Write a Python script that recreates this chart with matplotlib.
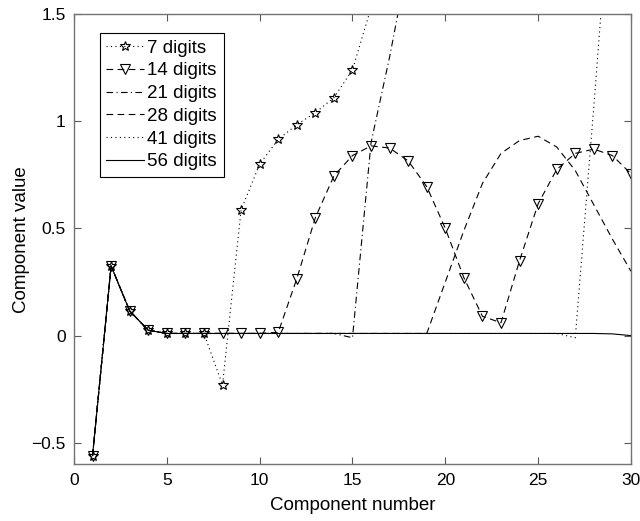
import matplotlib.pyplot as plt
import numpy as np

plt.rcParams['font.family'] = ['Liberation Sans', 'DejaVu Sans']

x = np.arange(1, 31)
base = [-0.56, 0.325, 0.115, 0.025, 0.01, 0.01, 0.01, 0.01, 0.01, 0.01,
        0.01, 0.01, 0.01, 0.01, 0.01, 0.01, 0.01, 0.01, 0.01, 0.01,
        0.01, 0.01, 0.01, 0.01, 0.01, 0.01, 0.01, 0.01, 0.008, 0.0]

d7 = [-0.56, 0.325, 0.115, 0.025, 0.01, 0.01, 0.01, -0.23, 0.586, 0.80,
      0.915, 0.984, 1.04, 1.11, 1.24, 1.53, 2.3]
d14 = [-0.56, 0.325, 0.115, 0.025, 0.01, 0.01, 0.01, 0.01, 0.01, 0.01,
       0.015, 0.265, 0.55, 0.745, 0.84, 0.885, 0.875, 0.815, 0.695, 0.50,
       0.27, 0.09, 0.06, 0.35, 0.615, 0.775, 0.85, 0.87, 0.84, 0.755]
d21 = base[:14] + [-0.01, 0.90, 1.30, 1.75]
d28 = base[:19] + [0.25, 0.49, 0.71, 0.85, 0.91, 0.93, 0.88, 0.77, 0.61, 0.45, 0.30]
d41 = base[:26] + [-0.01, 1.07, 2.2]
d56 = base

fig = plt.figure(figsize=(6.4, 5.21), dpi=100)
ax = fig.add_axes([0.1156, 0.109, 0.8703, 0.864])

lw = 0.8
ax.plot(x[:len(d7)], d7, color='k', lw=lw, ls=(0, (1, 3)), marker='*',
        ms=7, mfc='none', mec='k', mew=0.8, label='7 digits')
ax.plot(x, d14, color='k', lw=lw, ls=(0, (6, 4)), marker='v',
        ms=7, mfc='none', mec='k', mew=0.8, label='14 digits')
ax.plot(x[:len(d21)], d21, color='k', lw=lw, ls=(0, (6, 3, 1, 3)), label='21 digits')
ax.plot(x[:len(d28)], d28, color='k', lw=lw, ls=(0, (6, 4)), label='28 digits')
ax.plot(x[:len(d41)], d41, color='k', lw=lw, ls=(0, (1, 3)), label='41 digits')
ax.plot(x, d56, color='k', lw=lw, ls='-', label='56 digits')

ax.set_xlim(0, 30)
ax.set_ylim(-0.6, 1.5)
ax.set_xticks([0, 5, 10, 15, 20, 25, 30])
ax.set_yticks([-0.5, 0, 0.5, 1, 1.5], ['\u22120.5', '0', '0.5', '1', '1.5'])
ax.tick_params(direction='in', top=True, right=True, labelsize=12.5, length=5,
               color='0.35', pad=6)
for s in ax.spines.values():
    s.set_color('0.45')
    s.set_linewidth(1.0)

ax.set_xlabel('Component number', fontsize=13.5, labelpad=7)
ax.set_ylabel('Component value', fontsize=13.5, labelpad=1)

leg = ax.legend(loc='upper left', bbox_to_anchor=(0.046, 0.958), fontsize=13.5,
                frameon=True, fancybox=False, framealpha=1, edgecolor='k',
                handlelength=2.0, labelspacing=0.3, borderaxespad=0,
                handletextpad=0.2, borderpad=0.35)
leg.get_frame().set_linewidth(0.8)

fig.savefig('out.png', dpi=100)
